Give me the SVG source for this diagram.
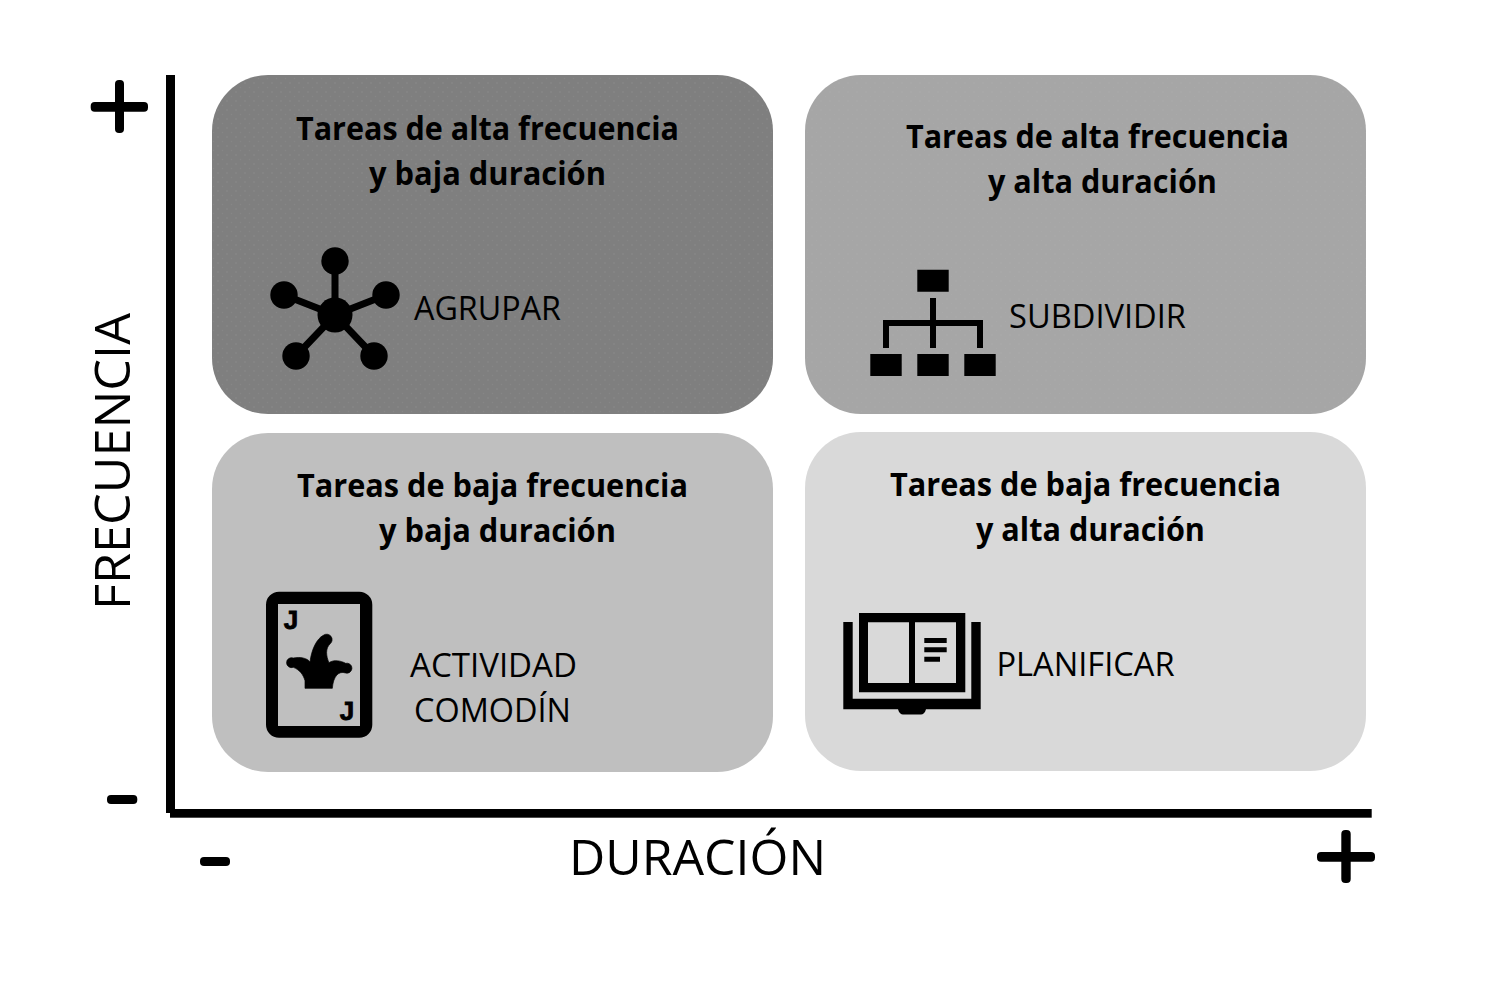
<svg xmlns="http://www.w3.org/2000/svg" width="1490" height="1001" viewBox="0 0 1490 1001">
<style>
text{font-family:"Open Sans","Noto Sans","Liberation Sans",sans-serif;fill:#000;text-anchor:middle}
.h{font-size:31.500px;font-weight:700}
.l{font-size:32px}
.a{font-size:50px}
.j{font-family:"Liberation Sans",Arial,sans-serif;font-size:26px;font-weight:700;stroke:#000;stroke-width:.8px}
.k{fill:#000}
</style>
<defs><pattern id="dots" width="9" height="9" patternUnits="userSpaceOnUse"><circle cx="2" cy="2" r=".7" fill="#fff" fill-opacity=".09"/><circle cx="6.500" cy="6.500" r=".7" fill="#fff" fill-opacity=".05"/></pattern></defs>
<rect width="1490" height="1001" fill="#fff"/>
<g id="q1"><rect x="212" y="75" width="561" height="339" rx="56" fill="#7f7f7f"/><rect x="212" y="75" width="561" height="339" rx="56" fill="url(#dots)"/>
<text class="h" x="487.500" y="140" textLength="383" lengthAdjust="spacingAndGlyphs">Tareas de alta frecuencia</text><text class="h" x="487.500" y="185" textLength="237" lengthAdjust="spacingAndGlyphs">y baja duración</text>
<text class="l" x="487.500" y="320" textLength="147" lengthAdjust="spacingAndGlyphs">AGRUPAR</text>
<g class="k"><path d="M335 261V315M284 295L335 315L386 295M296 356L335 315L374 356" fill="none" stroke="#000" stroke-width="7"/><circle cx="335" cy="315" r="17.500"/><circle cx="335" cy="261" r="13.700"/><circle cx="284" cy="295" r="13.700"/><circle cx="386" cy="295" r="13.700"/><circle cx="296" cy="356" r="13.700"/><circle cx="374" cy="356" r="13.700"/></g></g>
<g id="q2"><rect x="805" y="75" width="561" height="339" rx="56" fill="#a6a6a6"/><rect x="805" y="75" width="561" height="339" rx="56" fill="url(#dots)" opacity=".6"/>
<text class="h" x="1097.500" y="148" textLength="383" lengthAdjust="spacingAndGlyphs">Tareas de alta frecuencia</text><text class="h" x="1102.500" y="193" textLength="229" lengthAdjust="spacingAndGlyphs">y alta duración</text>
<text class="l" x="1097.500" y="328" textLength="177" lengthAdjust="spacingAndGlyphs">SUBDIVIDIR</text>
<path class="k" d="M917.300 269.700H948.700V291.700H917.300ZM870.300 354H901.700V376H870.300ZM917.300 354H948.700V376H917.300ZM964.300 354H995.700V376H964.300ZM930 298H936V320H983V348H977V326H936V348H930V326H889V348H883V320H930Z"/></g>
<g id="q3"><rect x="212" y="433" width="561" height="339" rx="56" fill="#bfbfbf"/>
<text class="h" x="492.500" y="497" textLength="391" lengthAdjust="spacingAndGlyphs">Tareas de baja frecuencia</text><text class="h" x="497.500" y="542" textLength="237" lengthAdjust="spacingAndGlyphs">y baja duración</text>
<text class="l" x="493.500" y="677" textLength="167" lengthAdjust="spacingAndGlyphs">ACTIVIDAD</text><text class="l" x="492.500" y="722" textLength="157" lengthAdjust="spacingAndGlyphs">COMODÍN</text>
<path class="k" fill-rule="evenodd" d="M279 591.700H359.300A13 13 0 0 1 372.300 604.700V724.700A13 13 0 0 1 359.300 737.700H279A13 13 0 0 1 266 724.700V604.700A13 13 0 0 1 279 591.700ZM278 604V726H360V604Z"/>
<text class="j" x="291" y="629">J</text><text class="j" x="347" y="720">J</text>
<path class="k" transform="translate(250 580) scale(.33333)" d="M165 325V302C160 285 150 270 130 262A15 15 0 1 1 130 234C150 230 172 234 180 246C184 210 200 176 220 166A15 15 0 1 1 240 192C226 205 228 228 237 248C252 238 272 242 287 250A15 15 0 1 1 287 279C266 272 250 288 247 325Z" stroke="#000" stroke-width="2"/></g>
<g id="q4"><rect x="805" y="432" width="561" height="339" rx="56" fill="#d9d9d9"/>
<text class="h" x="1085.500" y="496" textLength="391" lengthAdjust="spacingAndGlyphs">Tareas de baja frecuencia</text><text class="h" x="1090.500" y="541" textLength="229" lengthAdjust="spacingAndGlyphs">y alta duración</text>
<text class="l" x="1085.500" y="676" textLength="178" lengthAdjust="spacingAndGlyphs">PLANIFICAR</text>
<path class="k" fill-rule="evenodd" d="M859 613H965.300V692.300H859ZM868 622.300V683H909V622.300ZM915 622.300V683H956V622.300ZM843.300 622H852.700V698.700H971.300V622H980.700V709.300H926C925 713 923 714.500 921 714.500H903C901 714.500 899 713 898 709.300H843.300Z"/>
<path class="k" d="M924.300 638H946.700V643H924.300ZM924.300 647.300H946.700V652.300H924.300ZM924.300 656.700H940V661.700H924.300Z"/></g>
<g id="axes">
<rect class="k" x="166" y="75" width="9" height="738"/><rect class="k" x="170" y="809" width="1201.700" height="8.700"/>
<rect class="k" x="90.700" y="102" width="57.300" height="9.700" rx="4"/><rect class="k" x="115" y="80" width="9" height="53" rx="4"/>
<rect class="k" x="107" y="795" width="30.300" height="9" rx="4"/><rect class="k" x="200" y="857" width="30" height="9" rx="4"/>
<rect class="k" x="1317" y="852" width="58" height="9.700" rx="4"/><rect class="k" x="1341.300" y="830" width="9.400" height="53" rx="4"/>
<text class="a" x="697.500" y="875" textLength="257" lengthAdjust="spacingAndGlyphs">DURACIÓN</text>
<text class="a" transform="translate(130 461.500) rotate(-90)" textLength="297" lengthAdjust="spacingAndGlyphs">FRECUENCIA</text>
</g>
</svg>
